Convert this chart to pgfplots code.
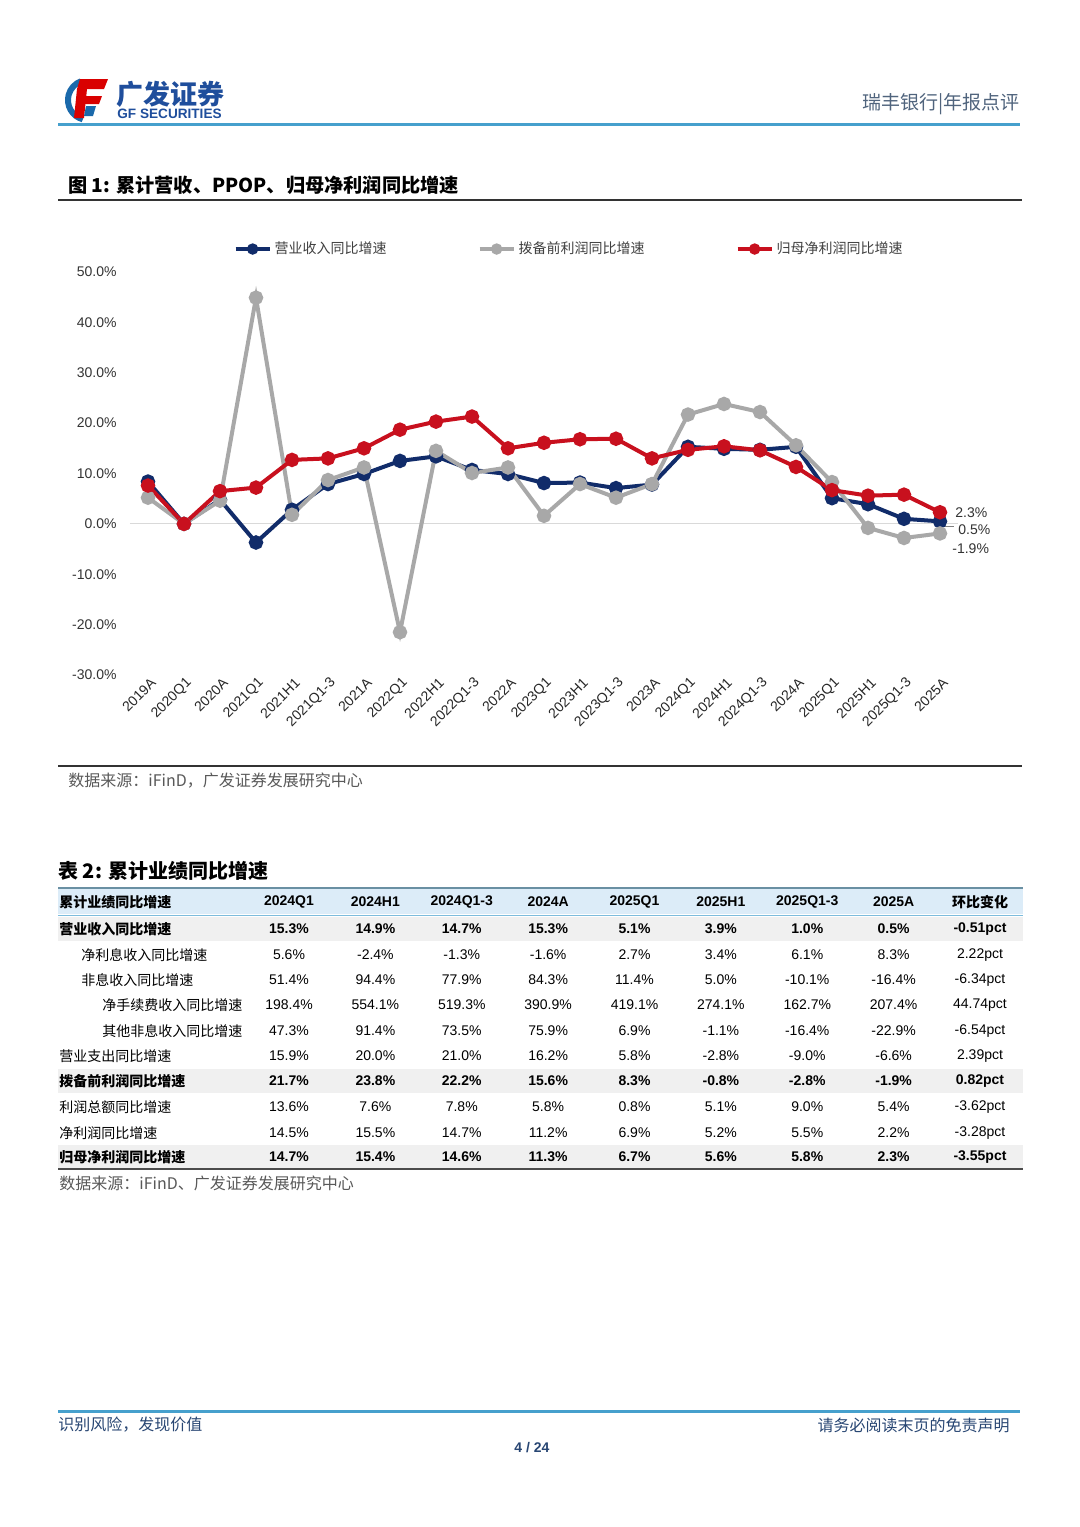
\documentclass[border=0pt]{standalone}
\usepackage{pgfplots}
\pgfplotsset{compat=1.18}
\usepackage{fontspec}
\setmainfont{Liberation Sans}
\newfontfamily\cjk{Noto Sans CJK SC}
\definecolor{navy}{RGB}{17,44,106}
\definecolor{lgray}{RGB}{168,168,168}
\definecolor{dred}{RGB}{200,16,30}
\definecolor{hblue}{RGB}{70,160,205}
\definecolor{hdrfill}{RGB}{220,236,248}
\definecolor{rowfill}{RGB}{240,240,240}
\definecolor{ftblue}{RGB}{40,70,115}
\definecolor{logoblue}{RGB}{31,78,156}
\definecolor{hdrgray}{RGB}{80,100,125}
\newcommand{\fs}[1]{\fontsize{#1}{#1}\selectfont}
\newcommand{\trow}[3]{\foreach \v [count=\i] in {#3} {\node[font=#2] at ({289+86.375*(\i-1)},#1) {\v};}}
\begin{document}
\begin{tikzpicture}
\useasboundingbox[fill=white] (0,0) rectangle (540pt,-763.5pt);
\begin{scope}[x=0.5pt,y=-0.5pt,every node/.style={inner sep=0pt}]
% logo
\draw[logoblue!85!cyan,line width=3pt] (88,100) ++(105:20) arc (105:250:20);
\fill[red!85!black] (80,79) -- (108,79) -- (104,89) -- (77,89) -- cycle;
\fill[red!85!black] (81,96) -- (102,96) -- (99,104) -- (79,104) -- cycle;
\fill[red!85!black] (77,89) -- (87,89) -- (84,118) -- (74,118) -- cycle;
\fill[logoblue!85!cyan] (86,106) -- (96,106) -- (93,116) -- (84,116) -- cycle;
\node[anchor=west,text=logoblue,font=\cjk\bfseries\fs{13.5pt}] at (116,94) {广发证券};
\node[anchor=west,text=logoblue,font=\bfseries\fs{6.8pt}] at (117,114) {GF SECURITIES};
\node[anchor=east,text=hdrgray,font=\cjk\fs{9.5pt}] at (1020,104) {瑞丰银行|年报点评};
\draw[hblue,line width=1.5pt] (58,124) -- (1020,124);
% figure title
\node[anchor=west,font=\cjk\bfseries\fs{9.6pt}] at (68,185) {图 1:  累计营收、PPOP、归母净利润同比增速};
\draw[black!80,line width=0.7pt] (58,200) -- (1022,200);
\draw[black!80,line width=0.7pt] (58,766) -- (1022,766);
\node[anchor=west,text=black!65,font=\cjk\fs{8pt}] at (68,781) {数据来源：iFinD，广发证券发展研究中心};
% table
\node[anchor=west,font=\cjk\bfseries\fs{10pt}] at (58,871) {表 2:  累计业绩同比增速};
\fill[hdrfill] (58,889) rectangle (1023,914);
\draw[hblue!60!black!70,line width=1pt] (58,888) -- (1023,888);
\draw[hblue!70,line width=0.5pt] (58,915) -- (1023,915);
\fill[rowfill] (58,917) rectangle (1023,941);
\fill[rowfill] (58,1069) rectangle (1023,1093);
\fill[rowfill] (58,1145) rectangle (1023,1168);
\draw[black!70,line width=0.8pt] (58,1169) -- (1023,1169);
\node[anchor=west,font=\cjk\bfseries\fs{7pt}] at (59,902) {累计业绩同比增速};
\trow{902}{\bfseries\fs{7pt}}{2024Q1,2024H1,2024Q1-3,2024A,2025Q1,2025H1,2025Q1-3,2025A,{\cjk 环比变化}}
\node[anchor=west,font=\cjk\bfseries\fs{7pt}] at (59,929) {营业收入同比增速};
\trow{929}{\bfseries\fs{7pt}}{15.3\%,14.9\%,14.7\%,15.3\%,5.1\%,3.9\%,1.0\%,0.5\%,-0.51pct}
\node[anchor=west,font=\cjk\fs{7pt}] at (81,955) {净利息收入同比增速};
\trow{955}{\fs{7pt}}{5.6\%,-2.4\%,-1.3\%,-1.6\%,2.7\%,3.4\%,6.1\%,8.3\%,2.22pct}
\node[anchor=west,font=\cjk\fs{7pt}] at (81,980) {非息收入同比增速};
\trow{980}{\fs{7pt}}{51.4\%,94.4\%,77.9\%,84.3\%,11.4\%,5.0\%,-10.1\%,-16.4\%,-6.34pct}
\node[anchor=west,font=\cjk\fs{7pt}] at (102,1005) {净手续费收入同比增速};
\trow{1005}{\fs{7pt}}{198.4\%,554.1\%,519.3\%,390.9\%,419.1\%,274.1\%,162.7\%,207.4\%,44.74pct}
\node[anchor=west,font=\cjk\fs{7pt}] at (102,1031) {其他非息收入同比增速};
\trow{1031}{\fs{7pt}}{47.3\%,91.4\%,73.5\%,75.9\%,6.9\%,-1.1\%,-16.4\%,-22.9\%,-6.54pct}
\node[anchor=west,font=\cjk\fs{7pt}] at (59,1056) {营业支出同比增速};
\trow{1056}{\fs{7pt}}{15.9\%,20.0\%,21.0\%,16.2\%,5.8\%,-2.8\%,-9.0\%,-6.6\%,2.39pct}
\node[anchor=west,font=\cjk\bfseries\fs{7pt}] at (59,1081) {拨备前利润同比增速};
\trow{1081}{\bfseries\fs{7pt}}{21.7\%,23.8\%,22.2\%,15.6\%,8.3\%,-0.8\%,-2.8\%,-1.9\%,0.82pct}
\node[anchor=west,font=\cjk\fs{7pt}] at (59,1107) {利润总额同比增速};
\trow{1107}{\fs{7pt}}{13.6\%,7.6\%,7.8\%,5.8\%,0.8\%,5.1\%,9.0\%,5.4\%,-3.62pct}
\node[anchor=west,font=\cjk\fs{7pt}] at (59,1133) {净利润同比增速};
\trow{1133}{\fs{7pt}}{14.5\%,15.5\%,14.7\%,11.2\%,6.9\%,5.2\%,5.5\%,2.2\%,-3.28pct}
\node[anchor=west,font=\cjk\bfseries\fs{7pt}] at (59,1157) {归母净利润同比增速};
\trow{1157}{\bfseries\fs{7pt}}{14.7\%,15.4\%,14.6\%,11.3\%,6.7\%,5.6\%,5.8\%,2.3\%,-3.55pct}
\node[anchor=west,text=black!65,font=\cjk\fs{8pt}] at (59,1183) {数据来源：iFinD、广发证券发展研究中心};
% footer
\draw[hblue,line width=1.5pt] (58,1411) -- (1020,1411);
\node[anchor=west,text=ftblue,font=\cjk\fs{8pt}] at (58,1425) {识别风险，发现价值};
\node[anchor=east,text=ftblue,font=\cjk\fs{8pt}] at (1010,1425) {请务必阅读末页的免责声明};
\node[text=ftblue,font=\bfseries\fs{7pt}] at (532,1448) {4 / 24};
\end{scope}
\begin{axis}[
  at={(65pt,-136pt)}, anchor=north west,
  width=414pt, height=201.5pt, scale only axis,
  xmin=-0.5, xmax=22.5, ymin=-30, ymax=50,
  axis line style={draw=none}, tick style={draw=none},
  xtick={0,...,22},
  xticklabels={2019A,2020Q1,2020A,2021Q1,2021H1,2021Q1-3,2021A,2022Q1,2022H1,2022Q1-3,2022A,2023Q1,2023H1,2023Q1-3,2023A,2024Q1,2024H1,2024Q1-3,2024A,2025Q1,2025H1,2025Q1-3,2025A},
  xticklabel style={rotate=45, anchor=east, font=\fs{7pt}, text=black!85, inner sep=1pt, yshift=-4pt, xshift=1pt},
  ytick={-30,-20,...,50},
  yticklabel={\pgfmathprintnumber[fixed,fixed zerofill,precision=1]{\tick}\%},
  yticklabel style={font=\fs{7pt}, text=black!80, inner sep=0pt, xshift=-6.5pt},
  /pgf/number format/assume math mode=true,
  legend style={at={(0.531,1.057)}, anchor=center, draw=none, fill=none,
    font=\cjk\fs{7pt}, text=black!75, legend columns=3,
    /tikz/every even column/.append style={column sep=44pt},
    inner sep=0pt, nodes={inner sep=1.5pt}},
  legend image code/.code={\draw[#1,mark size=1.8pt,mark repeat=2,mark phase=2] plot coordinates {(0pt,0pt) (8.5pt,0pt) (17pt,0pt)};},
  every axis plot/.append style={line width=2pt, mark=*, mark size=2.6pt},
  clip=false,
]
\addplot[forget plot, black!15, line width=0.6pt, no marks] coordinates {(-0.5,0) (22.5,0)};
\addplot[navy, mark options={fill=navy}] coordinates {(0,8.4)(1,0.0)(2,4.8)(3,-3.7)(4,2.8)(5,7.9)(6,9.9)(7,12.5)(8,13.4)(9,10.7)(10,9.9)(11,8.1)(12,8.2)(13,7.1)(14,7.8)(15,15.3)(16,14.9)(17,14.7)(18,15.3)(19,5.1)(20,3.9)(21,1.0)(22,0.5)};
\addlegendentry{营业收入同比增速}
\addplot[lgray, mark options={fill=lgray}] coordinates {(0,5.2)(1,0.0)(2,4.6)(3,44.9)(4,1.8)(5,8.7)(6,11.2)(7,-21.5)(8,14.5)(9,10.1)(10,11.2)(11,1.6)(12,7.9)(13,5.2)(14,7.9)(15,21.7)(16,23.8)(17,22.2)(18,15.6)(19,8.3)(20,-0.8)(21,-2.8)(22,-1.9)};
\addlegendentry{拨备前利润同比增速}
\addplot[dred, mark options={fill=dred}] coordinates {(0,7.6)(1,0.0)(2,6.5)(3,7.2)(4,12.7)(5,13.0)(6,15.0)(7,18.7)(8,20.3)(9,21.3)(10,15.0)(11,16.1)(12,16.8)(13,16.9)(14,13.0)(15,14.7)(16,15.4)(17,14.6)(18,11.3)(19,6.7)(20,5.6)(21,5.8)(22,2.3)};
\addlegendentry{归母净利润同比增速}
\node[anchor=west, font=\fs{7pt}, text=black!80, inner sep=0pt] at (axis cs:22,2.3) [xshift=7.5pt] {2.3\%};
\node[anchor=west, font=\fs{7pt}, text=black!80, inner sep=0pt] at (axis cs:22,0.5) [xshift=9pt, yshift=-4pt] {0.5\%};
\node[anchor=west, font=\fs{7pt}, text=black!80, inner sep=0pt] at (axis cs:22,-1.9) [xshift=6pt, yshift=-7.5pt] {-1.9\%};
\draw[black!50, line width=0.5pt] ([xshift=2.5pt,yshift=-2.5pt]axis cs:22,0.5) -- ([xshift=7pt,yshift=-2.5pt]axis cs:22,0.5);
\end{axis}
\end{tikzpicture}
\end{document}
